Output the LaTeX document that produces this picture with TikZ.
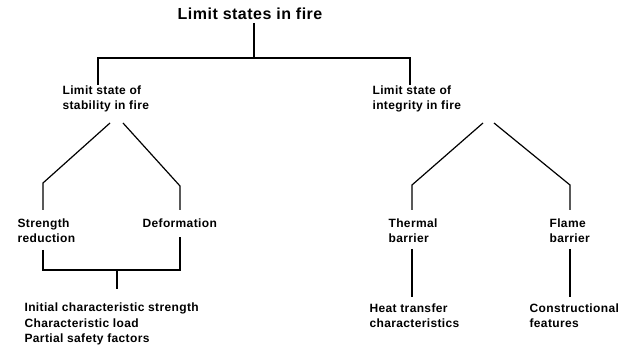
\documentclass[tikz,border=0pt]{standalone}
\usepackage{fontspec}
\setmainfont[LetterSpace=3]{Liberation Sans}

\begin{document}
\begin{tikzpicture}[x=1pt, y=-1pt, line width=1.2pt,
  every node/.style={inner sep=0pt, anchor=west, align=left,
    font=\bfseries\fontsize{12}{15.5}\selectfont}]
\useasboundingbox (0,0) rectangle (624,352);
% Title
\node[anchor=center, font=\bfseries\fontsize{16}{18}\selectfont] (limit) at (250,14) {Limit states in fire};
\coordinate (stem) at (254,23);
\coordinate (barL) at (98,58);
\coordinate (barM) at (254,58);
\coordinate (barR) at (410,58);
\draw (stem) -- (barM);
\draw (barL |- 0,85) -- (barL) -- (barR) -- (barR |- 0,85);
% Stability in fire
\node (stab) at (62,99) {Limit state of\\stability in fire};
\coordinate (stabA) at (110,123);
\coordinate (stabB) at (123,123);
\coordinate (kneeS) at (43,183);
\coordinate (kneeD) at (180,186);
\node (strength) at (17,230.5) {Strength\\reduction};
\node (deform) at (142,223) {Deformation};
\draw (stabA) -- (kneeS) -- (43,210);
\draw (stabB) -- (kneeD) -- (180,210);
\coordinate (joinL) at (43,270);
\coordinate (joinR) at (180,270);
\coordinate (joinM) at (117,270);
\draw (joinL |- 0,250) -- (joinL) -- (joinR) -- (joinR |- 0,237);
\node (factors) at (24,324) {Initial characteristic strength\\Characteristic load\\Partial safety factors};
\draw (joinM) -- (117,289);
% Integrity in fire
\node (integ) at (372,99) {Limit state of\\integrity in fire};
\coordinate (integA) at (483,123);
\coordinate (integB) at (494,123);
\coordinate (kneeT) at (412,185);
\coordinate (kneeF) at (570,185);
\node (thermal) at (388,230.5) {Thermal\\barrier};
\node (flame) at (549,230.5) {Flame\\barrier};
\draw (integA) -- (kneeT) -- (412,210);
\draw (integB) -- (kneeF) -- (570,210);
\node (heat) at (369,315.5) {Heat transfer\\characteristics};
\node (constr) at (529,315.5) {Constructional\\features};
\draw (kneeT |- 0,249) -- (kneeT |- 0,297);
\draw (kneeF |- 0,249) -- (kneeF |- 0,297);
\end{tikzpicture}
\end{document}
